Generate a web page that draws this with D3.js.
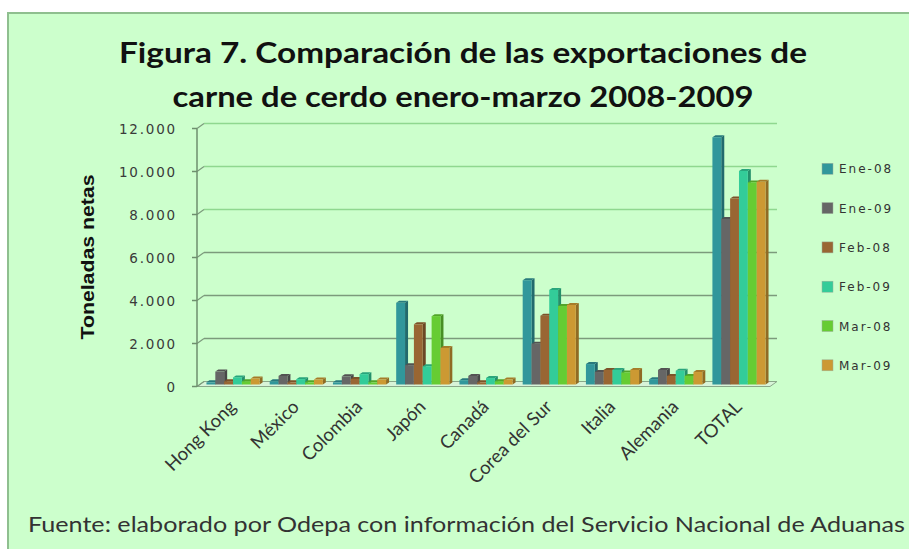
<!DOCTYPE html>
<html>
<head>
<meta charset="utf-8">
<script src="https://cdn.jsdelivr.net/npm/d3@7"></script>
<style>
  html, body { margin: 0; padding: 0; background: #ffffff; }
  svg { display: block; }
</style>
</head>
<body>
<svg id="chart" width="909" height="549"></svg>
<script>
// ---- data ----
const categories = ["Hong Kong", "México", "Colombia", "Japón", "Canadá", "Corea del Sur", "Italia", "Alemania", "TOTAL"];
const seriesNames = ["Ene-08", "Ene-09", "Feb-08", "Feb-09", "Mar-08", "Mar-09"];
const ene08 = [100, 150, 100, 3800, 200, 4850, 950, 250, 11500];
const ene09 = [600, 400, 380, 900, 400, 1900, 580, 680, 7700];
const feb08 = [150, 100, 260, 2800, 100, 3200, 680, 400, 8650];
const feb09 = [330, 250, 480, 850, 300, 4400, 680, 640, 9930];
const mar08 = [150, 100, 100, 3180, 150, 3650, 560, 400, 9400];
const mar09 = [280, 230, 230, 1700, 230, 3700, 680, 580, 9430];
const yTicks = [0, 2000, 4000, 6000, 8000, 10000, 12000];
const titleLines = ["Figura 7. Comparación de las exportaciones de", "carne de cerdo enero-marzo 2008-2009"];
const yTitle = "Toneladas netas";
const footer = "Fuente: elaborado por Odepa con información del Servicio Nacional de Aduanas";

const seriesValues = [ene08, ene09, feb08, feb09, mar08, mar09];
const colors = ["#31979b", "#666666", "#996633", "#33cc99", "#66cc33", "#cc9933"];

const svg = d3.select("#chart");

// background + frame
svg.append("rect").attr("x", 8).attr("y", 13).attr("width", 920).attr("height", 560)
  .attr("fill", "#ccffcc").attr("stroke", "#8fbf8f").attr("stroke-width", 2);

// title
titleLines.forEach((t, i) => {
  const tl = [688, 581][i];
  svg.append("text")
    .attr("x", 463).attr("y", [63, 107][i])
    .attr("text-anchor", "middle")
    .attr("font-family", "Lato, 'Open Sans', sans-serif")
    .attr("font-weight", "bold")
    .attr("font-size", 29)
    .attr("fill", "#111")
    .attr("textLength", tl)
    .attr("lengthAdjust", "spacingAndGlyphs")
    .text(t);
});

// scales
const x = d3.scaleBand().domain(categories).range([199.4, 768.6]).paddingInner(0.16).paddingOuter(0.08);
const xs = d3.scaleBand().domain(seriesNames).range([0, x.bandwidth()]).padding(0);
const y = d3.scaleLinear().domain([0, 12000]).range([386.5, 128.5]);

const DX = 7, DY = -5;       // wall depth
const BX = 2, BY = -2;       // bar offset into depth
const bdx = 3, bdy = -2;     // bar depth

const axisX = 197, rightX = 770;
const fmt = d3.formatLocale({ decimal: ",", thousands: ".", grouping: [3], currency: ["", ""] }).format(",d");

// floor
const y0 = y(0);
svg.append("polygon")
  .attr("points", [[axisX, y0], [rightX, y0], [rightX + DX, y0 + DY], [axisX + DX, y0 + DY]].map(p => p.join(",")).join(" "))
  .attr("fill", "#d8f4d8").attr("stroke", "#8aa88a").attr("stroke-width", 1);

// gridlines on back wall
const g = svg.append("g");
yTicks.forEach(v => {
  const yy = y(v);
  const col = v >= 8000 ? "#8fd88f" : "#7c9a7c";
  if (v > 0) {
    g.append("line").attr("x1", axisX + DX).attr("x2", rightX + DX)
      .attr("y1", yy + DY).attr("y2", yy + DY).attr("stroke", col).attr("stroke-width", 1.5);
  }
  g.append("line").attr("x1", axisX).attr("x2", axisX + DX)
    .attr("y1", yy).attr("y2", yy + DY).attr("stroke", "#7c9a7c").attr("stroke-width", 1.2);
  g.append("line").attr("x1", axisX - 5).attr("x2", axisX)
    .attr("y1", yy).attr("y2", yy).attr("stroke", "#6e8f6e").attr("stroke-width", 1.5);
  g.append("text").attr("x", 177).attr("y", yy + 5)
    .attr("text-anchor", "end")
    .attr("font-family", "'DejaVu Sans', sans-serif").attr("font-size", 13.5)
    .attr("letter-spacing", 1.8)
    .attr("fill", "#3a3a3a")
    .text(fmt(v));
});
// front y axis line
svg.append("line").attr("x1", axisX).attr("x2", axisX).attr("y1", y(0)).attr("y2", y(12000))
  .attr("stroke", "#6e8f6e").attr("stroke-width", 1.5);

// bars
function shade(c, k) { return d3.color(c).darker(k).formatHex(); }
const bars = svg.append("g");
categories.forEach((cat, ci) => {
  seriesNames.forEach((s, si) => {
    const v = seriesValues[si][ci];
    const x0 = x(cat) + xs(s) + BX;
    const w = xs.bandwidth();
    const yt = y(v) + BY;
    const yb = y(0) + BY;
    const c = colors[si];
    bars.append("polygon")
      .attr("points", [[x0 + w, yt], [x0 + w + bdx, yt + bdy], [x0 + w + bdx, yb + bdy], [x0 + w, yb]].map(p => p.join(",")).join(" "))
      .attr("fill", shade(c, 1.0));
    bars.append("polygon")
      .attr("points", [[x0, yt], [x0 + w, yt], [x0 + w + bdx, yt + bdy], [x0 + bdx, yt + bdy]].map(p => p.join(",")).join(" "))
      .attr("fill", shade(c, 0.6));
    bars.append("rect").attr("x", x0).attr("y", yt).attr("width", w).attr("height", yb - yt)
      .attr("fill", c);
  });
});

// x labels
categories.forEach(cat => {
  const cx = x(cat) + x.bandwidth() / 2;
  svg.append("text")
    .attr("transform", `translate(${cx + 6},${408}) rotate(-45)`)
    .attr("text-anchor", "end")
    .attr("font-family", "Lato, 'Open Sans', sans-serif")
    .attr("font-size", 18.5)
    .attr("fill", "#333")
    .text(cat);
});

// y title
svg.append("text")
  .attr("transform", "translate(94,257) rotate(-90)")
  .attr("text-anchor", "middle")
  .attr("font-family", "'Liberation Sans', Arial, sans-serif")
  .attr("font-weight", "bold")
  .attr("font-size", 19)
  .attr("fill", "#111")
  .attr("textLength", 165)
  .attr("lengthAdjust", "spacingAndGlyphs")
  .text(yTitle);

// legend
const leg = svg.append("g");
seriesNames.forEach((s, i) => {
  const cy = 168.8 + i * 39.3;
  leg.append("rect").attr("x", 822).attr("y", cy - 5.5).attr("width", 11).attr("height", 11)
    .attr("fill", colors[i]).attr("stroke", "#9ab09a").attr("stroke-width", 0.5);
  leg.append("text").attr("x", 839).attr("y", cy + 4.5)
    .attr("font-family", "'DejaVu Sans', sans-serif").attr("font-size", 12)
    .attr("letter-spacing", 2)
    .attr("fill", "#333")
    .text(s);
});

// footer
svg.append("text")
  .attr("x", 28).attr("y", 532)
  .attr("font-family", "Lato, 'Open Sans', sans-serif")
  .attr("font-size", 21)
  .attr("fill", "#333")
  .attr("textLength", 877)
  .attr("lengthAdjust", "spacingAndGlyphs")
  .text(footer);
</script>
</body>
</html>
